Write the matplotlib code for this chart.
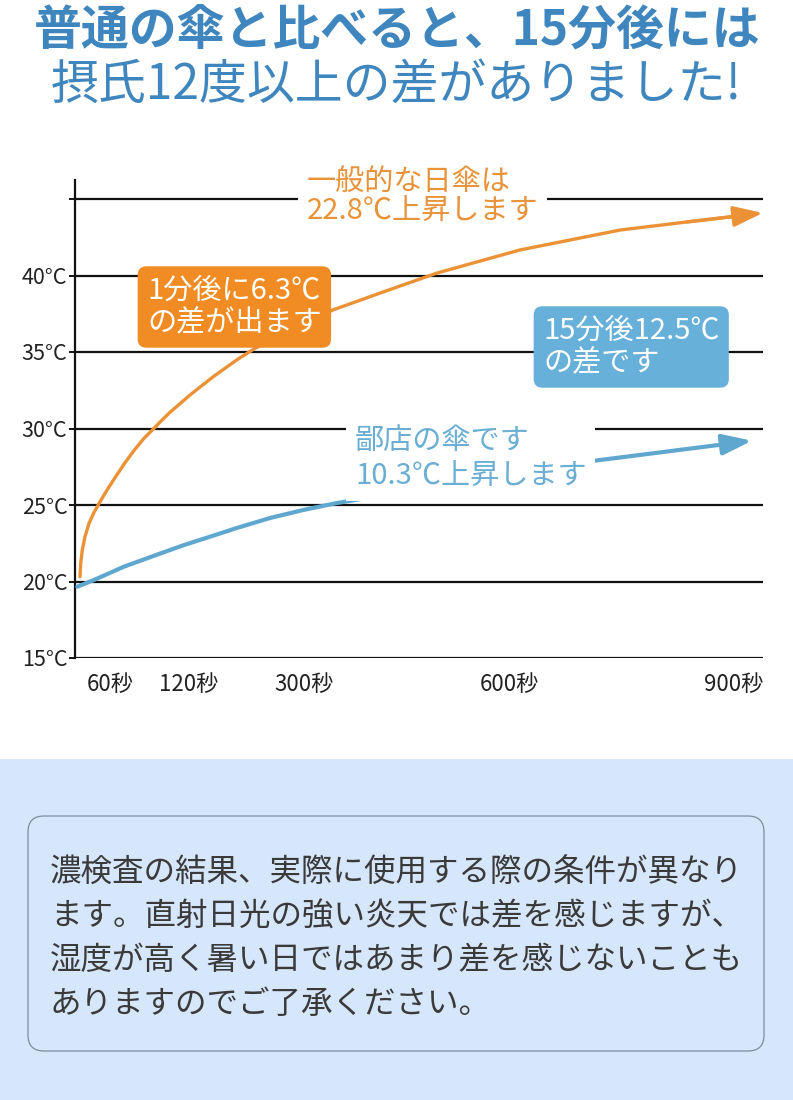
import numpy as np
import matplotlib
matplotlib.use('Agg')
import matplotlib.pyplot as plt
from matplotlib.patches import FancyBboxPatch, Rectangle

plt.rcParams['font.family'] = ['Noto Sans CJK JP', 'DejaVu Sans']

# ---------------- data ----------------
temp_ticks = [15, 20, 25, 30, 35, 40, 45]
temp_labels = ['15°C', '20°C', '25°C', '30°C', '35°C', '40°C', '']
time_ticks = [60, 120, 300, 600, 900]
time_labels = ['60秒', '120秒', '300秒', '600秒', '900秒']

# ordinary parasol (seconds, °C)
ordinary_t = [8.57, 9.77, 12.51, 17.14, 24.0, 32.57, 42.86, 55.37, 64.33, 70.63, 78.23,
              85.82, 93.42, 99.72, 105.57, 121.57, 158.03, 194.66, 223.30,
              342.4, 415.6, 494.6, 614.7, 748.0, 837.3, 908.0]
ordinary_c = [20.31, 21.19, 22.06, 22.93, 23.80, 24.52, 25.21, 26.01, 26.85, 27.67, 28.56,
              29.36, 30.01, 30.57, 31.06, 32.19, 33.39, 34.48, 35.24,
              37.75, 38.92, 40.16, 41.67, 42.97, 43.50, 43.90]
ordinary_arrow_t = [837.3, 938.5]
ordinary_arrow_c = [43.50, 44.09]

# our parasol
ours_t = [3.94, 32.57, 70.63, 95.92, 116.46, 141.9, 195.1, 246.8, 298.4, 348.3, 392.2]
ours_c = [19.66, 20.10, 20.97, 21.76, 22.39, 22.78, 23.50, 24.15, 24.67, 25.13, 25.46]
ours_arrow_t = [715, 924]
ours_arrow_c = [27.9, 29.2]

title1 = '普通の傘と比べると、15分後には'
title2 = '摂氏12度以上の差がありました!'
label_ordinary = '一般的な日傘は\n22.8℃上昇します'
label_ours = '鄙店の傘です\n10.3℃上昇します'
box_orange = '1分後に6.3℃\nの差が出ます'
box_blue = '15分後12.5℃\nの差です'
note_lines = ['濃検査の結果、実際に使用する際の条件が異なり',
              'ます。直射日光の強い炎天では差を感じますが、',
              '湿度が高く暑い日ではあまり差を感じないことも',
              'ありますのでご了承ください。']

# colours
C_TITLE = '#3F86BF'
C_ORANGE_LINE = '#EB9236'
C_ORANGE_TXT = '#E8923A'
C_ORANGE_BOX = '#F08C23'
C_BLUE_LINE = '#5FA7CF'
C_BLUE_TXT = '#6AAED3'
C_BLUE_BOX = '#66B0DA'
C_PANEL = '#D6E6FB'

# ---------------- figure ----------------
W, H = 793, 1100
fig = plt.figure(figsize=(W / 100, H / 100), dpi=100)
fig.patch.set_facecolor('white')

# non-linear time axis (tick spacing of the original)
_kx = np.array([0, 60, 120, 300, 600, 900], float)
_kp = np.array([0, 35, 114, 229, 434, 659], float)
_slope_hi = (_kp[-1] - _kp[-2]) / (_kx[-1] - _kx[-2])
_slope_lo = (_kp[1] - _kp[0]) / (_kx[1] - _kx[0])


def fwd(s):
    s = np.asarray(s, float)
    p = np.interp(s, _kx, _kp)
    p = np.where(s > _kx[-1], _kp[-1] + (s - _kx[-1]) * _slope_hi, p)
    p = np.where(s < 0, s * _slope_lo, p)
    return p


def inv(p):
    p = np.asarray(p, float)
    s = np.interp(p, _kp, _kx)
    s = np.where(p > _kp[-1], _kx[-1] + (p - _kp[-1]) / _slope_hi, s)
    s = np.where(p < 0, p / _slope_lo, s)
    return s


ax_l, ax_r, ax_t, ax_b = 75, 763, 180, 658
ax = fig.add_axes([ax_l / W, 1 - ax_b / H, (ax_r - ax_l) / W, (ax_b - ax_t) / H], zorder=2)
ax.patch.set_alpha(0)
ax.set_xscale('function', functions=(fwd, inv))
ax.set_xlim(0, 900 + (ax_r - ax_l - _kp[-1]) / _slope_hi)
ax.set_ylim(15, 15 + (ax_b - ax_t) / 15.3)

for sp in ['top', 'right', 'bottom']:
    ax.spines[sp].set_visible(False)
ax.spines['left'].set_linewidth(1.6)
ax.spines['left'].set_color('#111111')

for t in temp_ticks:
    ax.axhline(t, color='#111111', lw=1.6, zorder=1)

ax.set_yticks(temp_ticks)
ax.set_yticklabels(temp_labels)
ax.tick_params(axis='y', length=4, width=1.4, color='#111111', pad=1.5,
               labelsize=15.5, labelcolor='#222222')
ax.set_xticks(time_ticks)
ax.set_xticklabels(time_labels)
ax.xaxis.set_minor_locator(matplotlib.ticker.NullLocator())
ax.tick_params(axis='x', length=0, pad=11, labelsize=16, labelcolor='#222222')

# curves
ax.plot(ordinary_t, ordinary_c, color=C_ORANGE_LINE, lw=2.4, zorder=3,
        solid_capstyle='round', solid_joinstyle='round')
ax.annotate('', xy=(ordinary_arrow_t[1], ordinary_arrow_c[1]),
            xytext=(ordinary_arrow_t[0], ordinary_arrow_c[0]),
            arrowprops=dict(arrowstyle='-|>,head_length=1.0,head_width=0.35',
                            color=C_ORANGE_LINE, lw=2.4, mutation_scale=18,
                            shrinkA=0, shrinkB=0), annotation_clip=False, zorder=3)
ax.plot(ours_t, ours_c, color=C_BLUE_LINE, lw=3.0, zorder=3,
        solid_capstyle='round', solid_joinstyle='round')
ax.annotate('', xy=(ours_arrow_t[1], ours_arrow_c[1]),
            xytext=(ours_arrow_t[0], ours_arrow_c[0]),
            arrowprops=dict(arrowstyle='-|>,head_length=1.0,head_width=0.35',
                            color=C_BLUE_LINE, lw=3.0, mutation_scale=18,
                            shrinkA=0, shrinkB=0), annotation_clip=False, zorder=3)

# ---------------- overlay in pixel coordinates ----------------
ov = fig.add_axes([0, 0, 1, 1], zorder=5)
ov.set_xlim(0, W)
ov.set_ylim(H, 0)
ov.axis('off')
ov.patch.set_alpha(0)

ov.text(W / 2 + 1, 30, title1, ha='center', va='center', fontsize=34.5,
        fontweight='bold', color=C_TITLE)
ov.text(W / 2, 85, title2, ha='center', va='center', fontsize=34.5,
        color=C_TITLE)

ov.text(307, 197, label_ordinary, ha='left', va='center', fontsize=21,
        color=C_ORANGE_TXT, linespacing=0.98,
        bbox=dict(boxstyle='square,pad=0.3', fc='white', ec='none'))
ov.text(355, 459, label_ours, ha='left', va='center', fontsize=21,
        color=C_BLUE_TXT, linespacing=1.28,
        bbox=dict(boxstyle='square,pad=0.3', fc='white', ec='none'))

ov.text(147, 307, box_orange, ha='left', va='center', fontsize=21,
        color='white', linespacing=1.12,
        bbox=dict(boxstyle='round,pad=0.32,rounding_size=0.3', fc=C_ORANGE_BOX, ec='none'))
ov.text(543, 347, box_blue, ha='left', va='center', fontsize=21,
        color='white', linespacing=1.12,
        bbox=dict(boxstyle='round,pad=0.32,rounding_size=0.3', fc=C_BLUE_BOX, ec='none'))

# bottom note panel
ov.add_patch(Rectangle((0, 759), W, H - 759, fc=C_PANEL, ec='none', zorder=0))
ov.add_patch(FancyBboxPatch((28, 816), 736, 235,
                            boxstyle='round,pad=0,rounding_size=16',
                            fc=C_PANEL, ec='#7F8C9E', lw=0.9, zorder=1))
for i, line in enumerate(note_lines):
    ov.text(50, 873 + i * 43.5, line, ha='left', va='center', fontsize=22.7,
            color='#3A3A3A', zorder=2)

fig.savefig('out.png', dpi=100)
